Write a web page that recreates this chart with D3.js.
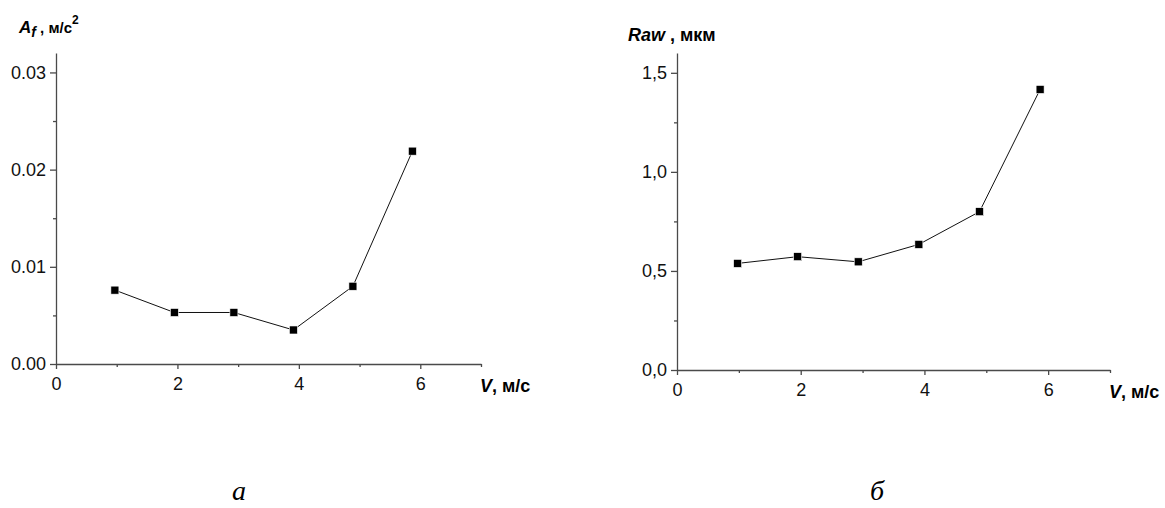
<!DOCTYPE html>
<html lang="ru">
<head>
  <meta charset="UTF-8" />
  <title>A_f and Raw vs V</title>
  <script src="https://d3js.org/d3.v7.min.js"></script>
  <style>
    body {
      margin: 0;
      background: #fff;
    }
    svg text {
      font-family: "Liberation Sans", Arial, sans-serif;
    }
    .axis path, .axis line {
      stroke: #4a4a4a;
      stroke-width: 1.3;
    }
    .axis text {
      font-size: 18px;
      fill: #111;
    }
    .caption {
      font-family: "Liberation Serif", "Times New Roman", serif !important;
      font-style: italic;
      font-size: 28px;
    }
  </style>
</head>
<body>
  <svg id="chart" width="1165" height="508"></svg>

  <script>
    // ----- Data -----
    const speedA = [0.97, 1.95, 2.93, 3.91, 4.89, 5.87];
    const accelA = [0.0076, 0.0053, 0.0053, 0.0035, 0.0080, 0.0219];

    const speedB = [0.98, 1.95, 2.93, 3.91, 4.89, 5.87];
    const rawB   = [0.538, 0.572, 0.546, 0.634, 0.799, 1.416];

    const xTicks      = [0, 2, 4, 6];
    const xMinorTicks = [1, 3, 5, 7];
    const yTicksA      = [0, 0.01, 0.02, 0.03];
    const yMinorTicksA = [0.005, 0.015, 0.025];
    const yTicksB      = [0, 0.5, 1.0, 1.5];
    const yMinorTicksB = [0.25, 0.75, 1.25];

    const svg = d3.select('#chart');

    function drawPanel(p) {
      const x = d3.scaleLinear().domain([0, 7]).range(p.xRange);
      const y = d3.scaleLinear().domain(p.yDomain).range(p.yRange);
      const g = svg.append('g');

      // minor ticks first, main axis on top
      g.append('g')
        .attr('class', 'axis')
        .attr('transform', `translate(0,${p.yRange[0]})`)
        .call(d3.axisBottom(x).tickValues(xMinorTicks).tickSize(3).tickFormat(''))
        .call(a => a.select('.domain').remove());
      g.append('g')
        .attr('class', 'axis')
        .attr('transform', `translate(${p.xRange[0]},0)`)
        .call(d3.axisLeft(y).tickValues(p.yMinor).tickSize(3).tickFormat(''))
        .call(a => a.select('.domain').remove());

      g.append('g')
        .attr('class', 'axis')
        .attr('transform', `translate(0,${p.yRange[0]})`)
        .call(d3.axisBottom(x).tickValues(xTicks).tickSize(5).tickSizeOuter(0).tickPadding(8).tickFormat(d3.format('d')));
      g.append('g')
        .attr('class', 'axis')
        .attr('transform', `translate(${p.xRange[0]},0)`)
        .call(d3.axisLeft(y).tickValues(p.yTicks).tickSize(6).tickSizeOuter(0).tickPadding(4).tickFormat(p.fmt));

      const pts = p.xs.map((v, i) => [v, p.ys[i]]);

      g.append('path')
        .datum(pts)
        .attr('fill', 'none')
        .attr('stroke', '#111')
        .attr('stroke-width', 1)
        .attr('d', d3.line().x(d => x(d[0])).y(d => y(d[1])));

      g.selectAll('rect.pt')
        .data(pts)
        .join('rect')
        .attr('class', 'pt')
        .attr('x', d => x(d[0]) - 4)
        .attr('y', d => y(d[1]) - 4)
        .attr('width', 8)
        .attr('height', 8)
        .attr('fill', '#000')
        .attr('stroke', '#fff')
        .attr('stroke-width', 0.6);

      // x axis title
      const xt = g.append('text')
        .attr('x', p.xRange[1] - 1)
        .attr('y', p.yRange[0] + 28)
        .attr('font-size', 18)
        .attr('font-weight', 'bold');
      xt.append('tspan').attr('font-style', 'italic').text('V');
      xt.append('tspan').text(', м/с');

      p.yTitle(g);

      svg.append('text')
        .attr('class', 'caption')
        .attr('x', p.captionX)
        .attr('y', 500)
        .text(p.caption);
    }

    drawPanel({
      xs: speedA, ys: accelA,
      xRange: [56, 481], yRange: [364, 53], yDomain: [0, 0.032],
      yTicks: yTicksA, yMinor: yMinorTicksA,
      fmt: d3.format('.2f'),
      caption: 'а', captionX: 232,
      yTitle: g => {
        const t = g.append('text')
          .attr('x', 19).attr('y', 33)
          .attr('font-size', 17).attr('font-weight', 'bold');
        t.append('tspan').attr('font-style', 'italic').text('A');
        t.append('tspan').attr('font-style', 'italic').attr('font-size', 14).attr('dy', 4).text('f');
        t.append('tspan').attr('dy', -4).attr('font-size', 15).text(' , м/с');
        t.append('tspan').attr('font-size', 12).attr('dy', -9).text('2');
      }
    });

    drawPanel({
      xs: speedB, ys: rawB,
      xRange: [677, 1110], yRange: [370, 53], yDomain: [0, 1.6],
      yTicks: yTicksB, yMinor: yMinorTicksB,
      fmt: d => d3.format('.1f')(d).replace('.', ','),
      caption: 'б', captionX: 870,
      yTitle: g => {
        const t = g.append('text')
          .attr('x', 628).attr('y', 41)
          .attr('font-size', 18).attr('font-weight', 'bold');
        t.append('tspan').attr('font-style', 'italic').text('Raw');
        t.append('tspan').text(' , мкм');
      }
    });
  </script>
</body>
</html>
